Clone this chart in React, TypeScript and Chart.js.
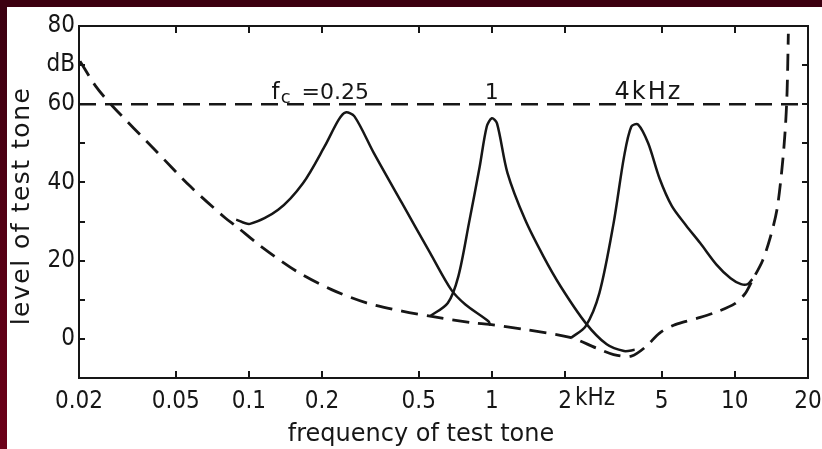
import React, { useEffect, useRef } from 'react';
import { Chart, registerables } from 'chart.js';

Chart.register(...registerables);

// ---- axis ticks ----
const X_TICKS = [0.02, 0.05, 0.1, 0.2, 0.5, 1, 2, 5, 10, 20];
const X_LABELS = ['0.02', '0.05', '0.1', '0.2', '0.5', '1', '2', '5', '10', '20'];
const Y_TICKS = [0, 20, 40, 60, 70, 80];
const Y_LABELS = ['0', '20', '40', '60', 'dB', '80'];
const Y_MINOR = [0, 10, 20, 30, 40, 50, 60, 70];

// ---- reference level line (dB) ----
const LIMIT_F = [0.02, 20];
const LIMIT_L = [60, 60];

// ---- threshold in quiet (dashed) ----
const TQ_F = [0.0202, 0.0235, 0.0275, 0.0411, 0.0574, 0.08, 0.0887, 0.112, 0.157, 0.219, 0.305, 0.427, 0.557, 0.832, 0.98, 1.37, 2.12, 2.68, 3.17, 3.75, 4.3, 4.9, 5.6, 6.3, 7.2, 8.5, 10, 11, 11.8, 13, 14, 14.9, 15.6, 16.1, 16.4, 16.6];
const TQ_L = [71, 64.5, 59.5, 48.3, 39, 30.9, 28.8, 23.7, 17.3, 12.6, 9.2, 7.1, 5.8, 4.1, 3.7, 2.4, 0.3, -2.3, -4, -4.4, -2, 1.5, 3.5, 4.5, 5.5, 7, 9, 11.5, 15, 20, 26, 33, 43, 53, 63, 78];

// ---- masking pattern fc = 0.25 kHz ----
const C1_F = [0.0887, 0.101, 0.132, 0.167, 0.205, 0.234, 0.25, 0.272, 0.327, 0.427, 0.557, 0.68, 0.778, 0.968, 0.985];
const C1_L = [30.5, 29.4, 33, 39.8, 49.2, 56, 57.9, 56.9, 47.5, 34.7, 22, 12.6, 8.8, 4.5, 3.4];

// ---- masking pattern fc = 1 kHz ----
const C2_F = [0.557, 0.659, 0.728, 0.805, 0.891, 0.953, 1.0, 1.05, 1.16, 1.37, 1.63, 1.92, 2.43, 2.97, 3.5, 3.87];
const C2_L = [5.8, 9.2, 16, 29.6, 44, 54.3, 56.4, 55.1, 42.4, 30.5, 21.1, 13.4, 4.1, -1.4, -3.1, -2.8];

// ---- masking pattern fc = 4 kHz ----
const C3_F = [2.12, 2.43, 2.77, 3.17, 3.5, 3.75, 4.0, 4.4, 4.9, 5.5, 6.3, 7.2, 8.4, 9.6, 10.6, 11.3, 11.8];
const C3_L = [0.3, 3.2, 11.7, 29.6, 46.6, 54.3, 54.8, 50, 41, 34, 29, 24.5, 19, 15.5, 14, 14, 15.3];

const INK = '#161616';
const FONT = '"DejaVu Sans Condensed", "DejaVu Sans", sans-serif';
const FONT_R = '"DejaVu Sans", sans-serif';

const pts = (f: number[], l: number[]) => f.map((x, i) => ({ x, y: l[i] }));

const deco = {
  id: 'deco',
  beforeDraw(chart: any) {
    const { ctx, width, height } = chart;
    ctx.save();
    ctx.fillStyle = '#ffffff';
    ctx.fillRect(0, 0, width, height);
    const g = ctx.createLinearGradient(0, 0, 0, height);
    g.addColorStop(0, '#3a0010');
    g.addColorStop(1, '#6c0018');
    ctx.fillStyle = g;
    ctx.fillRect(0, 0, 7, height);
    ctx.fillStyle = '#3c0010';
    ctx.fillRect(0, 0, width, 7);
    ctx.restore();
  },
  afterDraw(chart: any) {
    const { ctx } = chart;
    const { left, right, top, bottom } = chart.chartArea;
    const xs = chart.scales.x;
    const ys = chart.scales.y;
    ctx.save();
    ctx.strokeStyle = INK;
    ctx.lineWidth = 2;
    ctx.strokeRect(left, top, right - left, bottom - top);
    ctx.beginPath();
    X_TICKS.slice(1, -1).forEach((v) => {
      const px = Math.round(xs.getPixelForValue(v));
      ctx.moveTo(px, bottom);
      ctx.lineTo(px, bottom - 7);
      ctx.moveTo(px, top);
      ctx.lineTo(px, top + 7);
    });
    Y_MINOR.forEach((v) => {
      const py = Math.round(ys.getPixelForValue(v));
      ctx.moveTo(left, py);
      ctx.lineTo(left + 6, py);
      ctx.moveTo(right, py);
      ctx.lineTo(right - 6, py);
    });
    ctx.stroke();

    ctx.fillStyle = INK;
    // "kHz" after the 2 tick label
    ctx.font = `24px ${FONT}`;
    ctx.textBaseline = 'top';
    ctx.textAlign = 'left';
    ctx.fillText('kHz', xs.getPixelForValue(2) + 10, bottom + 9);

    // annotations above the 60 dB line
    const base = ys.getPixelForValue(60) - 5;
    ctx.textBaseline = 'alphabetic';
    ctx.font = `23px ${FONT_R}`;
    let x0 = xs.getPixelForValue(0.124);
    ctx.fillText('f', x0, base);
    x0 += ctx.measureText('f').width + 1;
    ctx.font = `18px ${FONT_R}`;
    ctx.fillText('c', x0, base + 4);
    x0 += ctx.measureText('c').width + 11;
    ctx.font = `22px ${FONT_R}`;
    ctx.fillText('=0.25', x0, base);
    ctx.textAlign = 'center';
    ctx.fillText('1', xs.getPixelForValue(1), base);
    ctx.textAlign = 'left';
    ctx.font = `24px ${FONT_R}`;
    (ctx as any).letterSpacing = '2px';
    ctx.fillText('4kHz', xs.getPixelForValue(3.2), base);
    (ctx as any).letterSpacing = '0px';

    // axis titles
    ctx.font = `24px ${FONT_R}`;
    ctx.textAlign = 'center';
    ctx.textBaseline = 'middle';
    ctx.fillText('frequency of test tone', 421, 435);
    ctx.translate(22, (top + bottom) / 2 + 4);
    ctx.rotate(-Math.PI / 2);
    ctx.font = `25px ${FONT_R}`;
    (ctx as any).letterSpacing = '1.5px';
    ctx.fillText('level of test tone', 0, 0);
    (ctx as any).letterSpacing = '0px';
    ctx.restore();
  },
};

export default function App() {
  const ref = useRef<HTMLCanvasElement | null>(null);
  useEffect(() => {
    if (!ref.current) return;
    const dashed = { borderDash: [17, 9], borderWidth: 2.8 };
    const solid = { borderWidth: 2.5, pointRadius: 0, tension: 0.3 };
    const chart = new Chart(ref.current, {
      type: 'line',
      data: {
        datasets: [
          { label: 'limit', data: pts(LIMIT_F, LIMIT_L), borderColor: INK, borderDash: [17, 9], borderWidth: 2.5, pointRadius: 0, tension: 0 },
          { label: 'threshold', data: pts(TQ_F, TQ_L), borderColor: INK, ...dashed, pointRadius: 0, tension: 0.3 },
          { label: 'fc=0.25', data: pts(C1_F, C1_L), borderColor: INK, ...solid },
          { label: 'fc=1', data: pts(C2_F, C2_L), borderColor: INK, ...solid },
          { label: 'fc=4', data: pts(C3_F, C3_L), borderColor: INK, ...solid },
        ],
      },
      options: {
        responsive: false,
        animation: false,
        events: [],
        layout: { padding: { left: 0, top: 26, right: 14, bottom: 0 } },
        plugins: { legend: { display: false }, tooltip: { enabled: false } },
        scales: {
          x: {
            type: 'logarithmic',
            min: 0.02,
            max: 20,
            grid: { display: false, drawTicks: false },
            border: { display: false },
            afterBuildTicks: (s: any) => { s.ticks = X_TICKS.map((v) => ({ value: v })); },
            afterFit: (s: any) => { s.height = 71; s.paddingLeft = 0; s.paddingRight = 0; },
            ticks: {
              autoSkip: false,
              maxRotation: 0,
              padding: 9,
              color: INK,
              font: { family: FONT, size: 24 },
              callback: (_v: any, i: number) => X_LABELS[i],
            },
          },
          y: {
            type: 'linear',
            min: -10,
            max: 80,
            grid: { display: false, drawTicks: false },
            border: { display: false },
            afterBuildTicks: (s: any) => { s.ticks = Y_TICKS.map((v) => ({ value: v })); },
            afterFit: (s: any) => { s.width = 79; s.paddingTop = 0; s.paddingBottom = 0; },
            ticks: {
              padding: 4,
              color: INK,
              font: { family: FONT, size: 24 },
              callback: (_v: any, i: number) => Y_LABELS[i],
            },
          },
        },
      },
      plugins: [deco],
    });
    return () => chart.destroy();
  }, []);
  return (
    <div style={{ position: 'absolute', left: 0, top: 0, width: 822, height: 449 }}>
      <canvas ref={ref} width={822} height={449} style={{ display: 'block' }} />
    </div>
  );
}
